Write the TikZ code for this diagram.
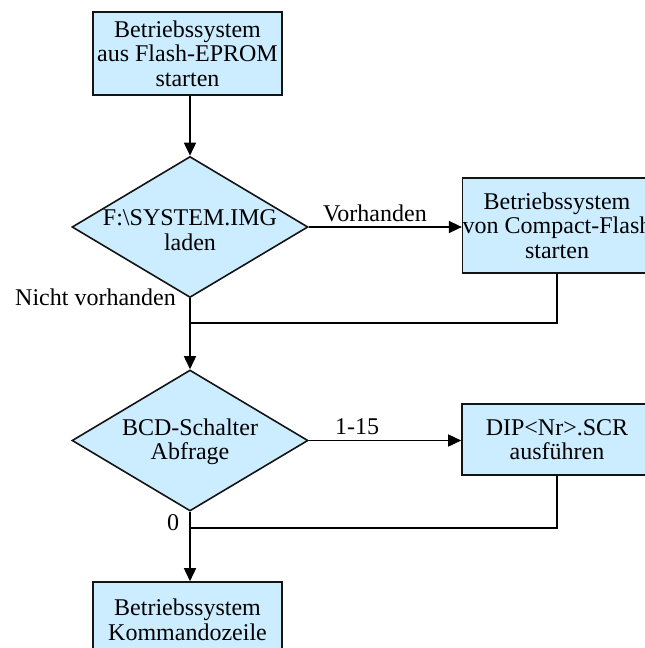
\documentclass[tikz,border=0pt]{standalone}
\usepackage{fontspec}
\setmainfont{Liberation Serif}
\usetikzlibrary{shapes.geometric,arrows.meta}
\definecolor{boxfill}{RGB}{204,236,255}
\definecolor{edge}{RGB}{20,20,20}
\tikzset{
  every node/.style={font=\fontsize{24}{24.5}\selectfont, text=black},
  procbox/.style={draw=edge, line width=1.6pt, fill=boxfill, rectangle, align=center, inner sep=0pt},
  dia/.style={draw=edge, line width=1.6pt, fill=boxfill, diamond, inner sep=0pt, minimum width=236pt, minimum height=141pt},
  diatext/.style={align=center, inner sep=0pt},
  lbl/.style={inner sep=0pt},
  conn/.style={draw=black, line width=1.6pt},
  arr/.style={conn, -{Triangle[length=13pt,width=12pt]}}
}
\begin{document}
\begin{tikzpicture}[x=1pt,y=-1pt]
\useasboundingbox (0,0) rectangle (645,648);
% boxes
\node[procbox, minimum width=189pt, minimum height=83pt] (b1) at (187.5,53.5) {Betriebssystem\\aus Flash-EPROM\\starten};
\node[dia] (d1) at (190,227) {};
\node[diatext] (t1) at (190,230) {F:\textbackslash SYSTEM.IMG\\laden};
\node[procbox, minimum width=188pt, minimum height=95pt] (b2) at (557,225.5) {Betriebssystem\\von Compact-Flash\\starten};
\node[dia] (d2) at (190,440.5) {};
\node[diatext] (t2) at (190,442) {BCD-Schalter\\Abfrage};
\node[procbox, minimum width=190pt, minimum height=71pt] (b3) at (557,439.5) {DIP<Nr>.SCR\\ausführen};
\node[procbox, minimum width=189pt, minimum height=76pt] (b4) at (187.5,620) {Betriebssystem\\Kommandozeile};
% junction points
\coordinate (j1) at (190,323);
\coordinate (j2) at (190,528);
% connectors
\draw[arr] (b1.south -| d1.north) -- (d1.north);
\draw[arr] (d1.east) -- (b2.west |- d1.east);
\draw[conn] (b2.south) |- (j1);
\draw[arr] (d1.south) -- (d2.north);
\draw[arr] (d2.east) -- (b3.west |- d2.east);
\draw[conn] (b3.south) |- (j2);
\draw[arr] (d2.south) -- (b4.north -| d2.south);
% labels
\node[lbl] (lv) at (375,213) {Vorhanden};
\node[lbl, anchor=east] (lnv) at (176,297) {Nicht vorhanden};
\node[lbl] (l115) at (357,427) {1-15};
\node[lbl] (l0) at (173,523) {0};
\end{tikzpicture}
\end{document}
